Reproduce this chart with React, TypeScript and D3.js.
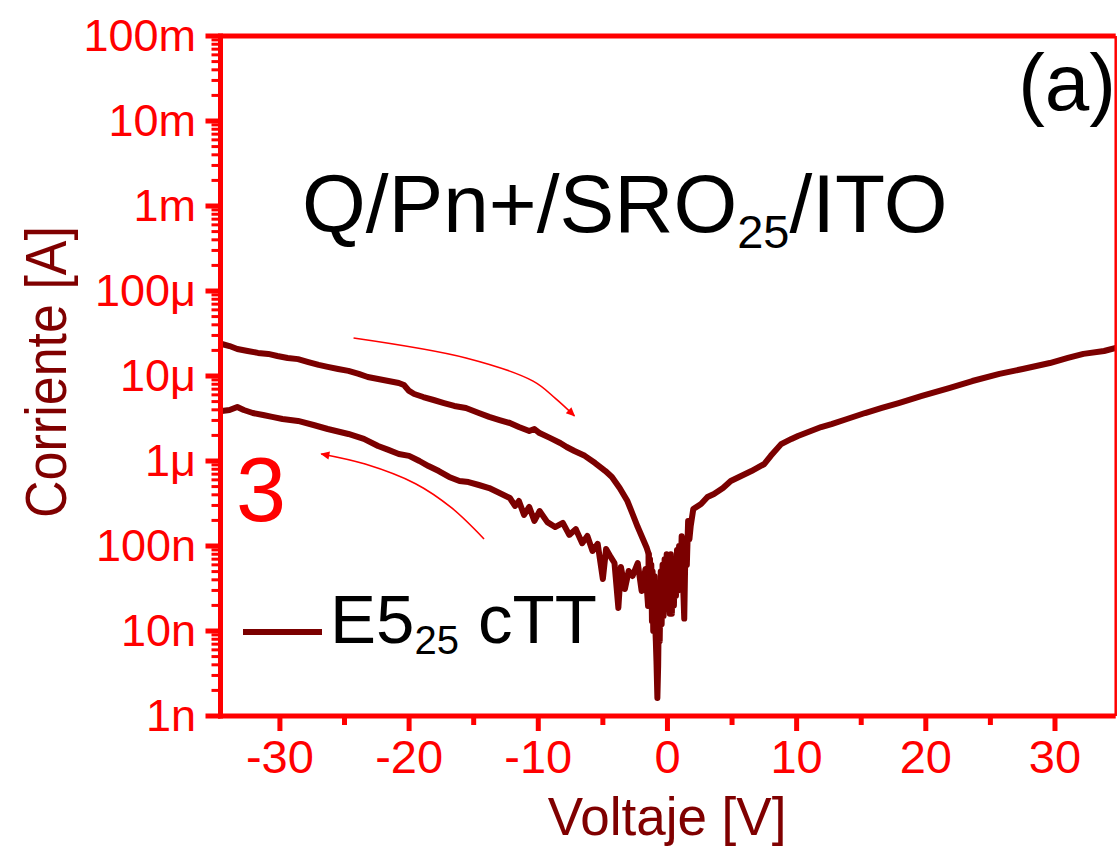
import React from "react";
import * as d3 from "d3";

// ---- Data ----
// Upper branch, negative voltages (sweep toward 0 V)
const upperV = [-35.0,-34.5,-33.9,-33.3,-32.5,-31.7,-30.9,-30.2,-29.4,-28.6,-27.8,-27.0,-26.3,-25.5,-24.7,-23.9,-23.2,-22.4,-21.6,-20.8,-20.4,-20.0,-19.6,-18.9,-18.1,-17.3,-16.5,-15.6,-14.6,-13.8,-13.0,-12.2,-11.5,-10.7,-10.3,-9.9,-9.1,-8.3,-7.8,-7.2,-6.4,-5.6,-4.8,-4.3,-3.7,-3.1,-2.7,-2.3,-1.9,-1.6];
const upperI = [2.58e-5,2.38e-5,2.25e-5,2.08e-5,1.97e-5,1.87e-5,1.82e-5,1.72e-5,1.63e-5,1.58e-5,1.46e-5,1.35e-5,1.28e-5,1.21e-5,1.15e-5,1.06e-5,9.73e-6,9.22e-6,8.73e-6,8.28e-6,7.83e-6,6.67e-6,6.14e-6,5.66e-6,5.22e-6,4.81e-6,4.44e-6,4.21e-6,3.67e-6,3.30e-6,3.03e-6,2.80e-6,2.51e-6,2.25e-6,2.38e-6,2.13e-6,1.87e-6,1.63e-6,1.46e-6,1.31e-6,1.15e-6,9.46e-7,7.62e-7,6.49e-7,4.81e-7,3.38e-7,2.38e-7,1.67e-7,1.21e-7,9.46e-8];

// Noisy region around 0 V
const centerV = [-1.45,-1.4,-1.35,-1.3,-1.25,-1.2,-1.15,-1.1,-1.0,-0.95,-0.9,-0.85,-0.78,-0.72,-0.66,-0.6,-0.52,-0.45,-0.38,-0.3,-0.22,-0.14,-0.06,0.02,0.1,0.18,0.26,0.34,0.42,0.5,0.58,0.66,0.74,0.82,0.9,1.0,1.1,1.2,1.3,1.4,1.5,1.6,1.7,1.8];
const centerI = [8e-8,3e-8,7e-8,2.25e-8,6e-8,1.3e-8,5e-8,1.0e-8,4.4e-8,1.2e-8,7.6e-9,4.4e-9,1.63e-9,3.9e-9,2.2e-8,7.6e-9,5e-8,1.2e-8,6e-8,1.5e-8,7e-8,2e-8,8e-8,1.8e-8,7e-8,1.6e-8,8e-8,1.6e-8,6.5e-8,2e-8,7e-8,2.6e-8,9e-8,3e-8,1.0e-7,3.9e-8,1.3e-7,4e-8,1.4e-8,1.15e-7,6e-8,1.97e-7,1.2e-7,1.72e-7];

// Positive voltages
const positiveV = [2.0,2.6,3.1,3.6,4.3,4.9,5.7,6.5,7.5,8.0,8.8,9.6,10.1,11.1,11.9,12.7,13.9,15.3,16.6,17.9,19.7,21.8,23.6,25.7,27.5,29.6,31.0,32.2,33.8,35.0];
const positiveI = [2.72e-7,3.12e-7,3.77e-7,4.09e-7,4.81e-7,5.82e-7,6.67e-7,7.62e-7,9.22e-7,1.15e-6,1.58e-6,1.82e-6,1.97e-6,2.25e-6,2.51e-6,2.72e-6,3.12e-6,3.67e-6,4.21e-6,4.81e-6,5.82e-6,7.22e-6,8.73e-6,1.06e-5,1.21e-5,1.42e-5,1.63e-5,1.82e-5,1.97e-5,2.19e-5];

// Lower branch, negative voltages (return sweep)
const lowerV = [-35.0,-34.5,-33.9,-33.3,-32.8,-32.1,-31.3,-30.6,-29.8,-28.6,-27.4,-26.3,-24.7,-23.5,-22.4,-21.6,-20.8,-20.0,-19.2,-18.5,-17.7,-16.9,-16.1,-15.4,-14.6,-13.8,-13.0,-12.2,-11.8,-11.5,-11.1,-10.7,-10.3,-9.9,-9.3,-8.7,-8.1,-7.6,-7.1,-6.6,-6.2,-5.8,-5.4,-5.0,-4.75,-4.4,-4.1,-3.8,-3.6,-3.3,-3.0,-2.7,-2.3,-2.0,-1.7,-1.5];
const lowerI = [3.87e-6,3.87e-6,3.98e-6,4.32e-6,3.98e-6,3.67e-6,3.48e-6,3.30e-6,3.12e-6,2.96e-6,2.65e-6,2.38e-6,2.08e-6,1.82e-6,1.50e-6,1.35e-6,1.21e-6,1.15e-6,1.0e-6,8.73e-7,7.62e-7,6.49e-7,5.82e-7,5.66e-7,5.22e-7,4.81e-7,4.21e-7,3.67e-7,2.96e-7,3.38e-7,2.32e-7,2.88e-7,1.97e-7,2.58e-7,1.91e-7,1.67e-7,1.87e-7,1.35e-7,1.58e-7,1.08e-7,1.31e-7,8.73e-8,1.06e-7,4.09e-8,9.22e-8,7.43e-8,6.31e-8,1.87e-8,5.66e-8,3.12e-8,5.08e-8,4.44e-8,6.31e-8,2.96e-8,5.36e-8,1.97e-8];

// Sweep-direction arrows (tail -> head), in data units
const arrowDownV = [-24.3,-15.6,-10.4,-8.7,-7.2];
const arrowDownI = [2.8e-5,1.63e-5,8.7e-6,5.5e-6,3.4e-6];
const arrowBackV = [-14.2,-16.7,-19.5,-23.4,-26.8];
const arrowBackI = [1.21e-7,2.8e-7,5.4e-7,9.2e-7,1.21e-6];

// Ticks
const xMajor = [-30,-20,-10,0,10,20,30];
const xMinor = [-25,-15,-5,5,15,25];
const yMajorExp = [-9,-8,-7,-6,-5,-4,-3,-2,-1];
const yLabels = ["1n","10n","100n","1\u03bc","10\u03bc","100\u03bc","1m","10m","100m"];
const yMinorMult = [2,3,4,5,6,7,8,9];

const W = 1117, H = 849;
const FONT = "Arial, 'Liberation Sans', sans-serif";
const RED = "#ff0000";
const DARK = "#7b0000";

export default function App() {
  const x = d3.scaleLinear().domain([-34.6, 34.7]).range([220.5, 1115.7]);
  const y = d3.scaleLog().domain([1e-9, 1e-1]).range([716, 36]);
  const [x0, x1] = x.range();
  const yTop = y(1e-1), yBot = y(1e-9);

  const zip = (vs: number[], is: number[]) => vs.map((v, i) => [v, is[i]] as [number, number]);
  const line = d3.line<[number, number]>().x(d => x(d[0])).y(d => y(d[1]));
  const curve = d3.line<[number, number]>().x(d => x(d[0])).y(d => y(d[1])).curve(d3.curveCatmullRom);

  const mainPts = [...zip(upperV, upperI), ...zip(centerV, centerI), ...zip(positiveV, positiveI)];
  const lowerPts = [...zip(lowerV, lowerI), [centerV[0], centerI[0]] as [number, number]];

  const yMinor: number[] = [];
  yMajorExp.slice(0, -1).forEach(e => yMinorMult.forEach(m => yMinor.push(m * Math.pow(10, e))));

  return (
    <svg width={W} height={H} style={{ position: "absolute", left: 0, top: 0, background: "#fff" }} fontFamily={FONT}>
      <defs>
        <clipPath id="plot"><rect x={x0} y={yTop} width={x1 - x0} height={yBot - yTop} /></clipPath>
        <marker id="ah" viewBox="0 0 10 10" refX="9" refY="5" markerWidth="16" markerHeight="9" markerUnits="userSpaceOnUse" orient="auto">
          <path d="M0,0.5 L10,5 L0,9.5 z" fill={RED} />
        </marker>
      </defs>

      {/* curves */}
      <g clipPath="url(#plot)" fill="none" stroke={DARK} strokeWidth={6} strokeLinejoin="round" strokeLinecap="round">
        <path d={line(lowerPts) || ""} />
        <path d={line(mainPts) || ""} />
      </g>

      {/* arrows */}
      <g fill="none" stroke={RED} strokeWidth={1.6}>
        <path d={curve(zip(arrowDownV, arrowDownI)) || ""} markerEnd="url(#ah)" />
        <path d={curve(zip(arrowBackV, arrowBackI)) || ""} markerEnd="url(#ah)" />
      </g>

      {/* frame */}
      <line x1={x0} x2={x1} y1={yTop} y2={yTop} stroke={RED} strokeWidth={5} />
      <line x1={x1} x2={x1} y1={yTop} y2={yBot} stroke={RED} strokeWidth={2.5} />
      <line x1={x0} x2={x0} y1={yTop - 2.5} y2={yBot + 2.5} stroke={RED} strokeWidth={5} />
      <line x1={x0 - 2.5} x2={x1} y1={yBot} y2={yBot} stroke={RED} strokeWidth={5} />

      {/* x ticks */}
      {xMajor.map(v => (
        <g key={"xm" + v}>
          <line x1={x(v)} x2={x(v)} y1={yBot} y2={yBot + 15} stroke={RED} strokeWidth={5} />
          <text x={x(v)} y={773} fontSize={47} fill={RED} textAnchor="middle">{String(v)}</text>
        </g>
      ))}
      {xMinor.map(v => (
        <line key={"xn" + v} x1={x(v)} x2={x(v)} y1={yBot} y2={yBot + 9} stroke={RED} strokeWidth={5} />
      ))}

      {/* y ticks */}
      {yMajorExp.map((e, i) => (
        <g key={"ym" + e}>
          <line x1={x0} x2={x0 - 15} y1={y(Math.pow(10, e))} y2={y(Math.pow(10, e))} stroke={RED} strokeWidth={5} />
          <text x={196} y={y(Math.pow(10, e)) + 15} fontSize={45} fill={RED} textAnchor="end">{yLabels[i]}</text>
        </g>
      ))}
      {yMinor.map((v, i) => (
        <line key={"yn" + i} x1={x0} x2={x0 - 9} y1={y(v)} y2={y(v)} stroke={RED} strokeWidth={3} />
      ))}

      {/* axis titles */}
      <text x={(x0 + x1) / 2 - 1} y={835} fontSize={53} fill="#800000" textAnchor="middle">Voltaje [V]</text>
      <text transform={`translate(66, ${(yTop + yBot) / 2 - 4}) rotate(-90)`} fontSize={57} fill="#800000" textAnchor="middle" textLength={292} lengthAdjust="spacingAndGlyphs">Corriente [A]</text>

      {/* annotations */}
      <text x={302} y={232} fontSize={82} fill="#000">
        Q/Pn+/SRO<tspan fontSize={47} dy={16}>25</tspan><tspan dy={-16}>/ITO</tspan>
      </text>
      <text x={1116} y={110} fontSize={80} fill="#000" textAnchor="end">(a)</text>
      <text x={236} y={521} fontSize={90} fill={RED}>3</text>

      {/* legend */}
      <line x1={243} x2={322} y1={632} y2={632} stroke={DARK} strokeWidth={6} />
      <text x={330} y={643} fontSize={69} fill="#000">
        E5<tspan fontSize={40} dy={11}>25</tspan><tspan dy={-11}> cTT</tspan>
      </text>
    </svg>
  );
}
